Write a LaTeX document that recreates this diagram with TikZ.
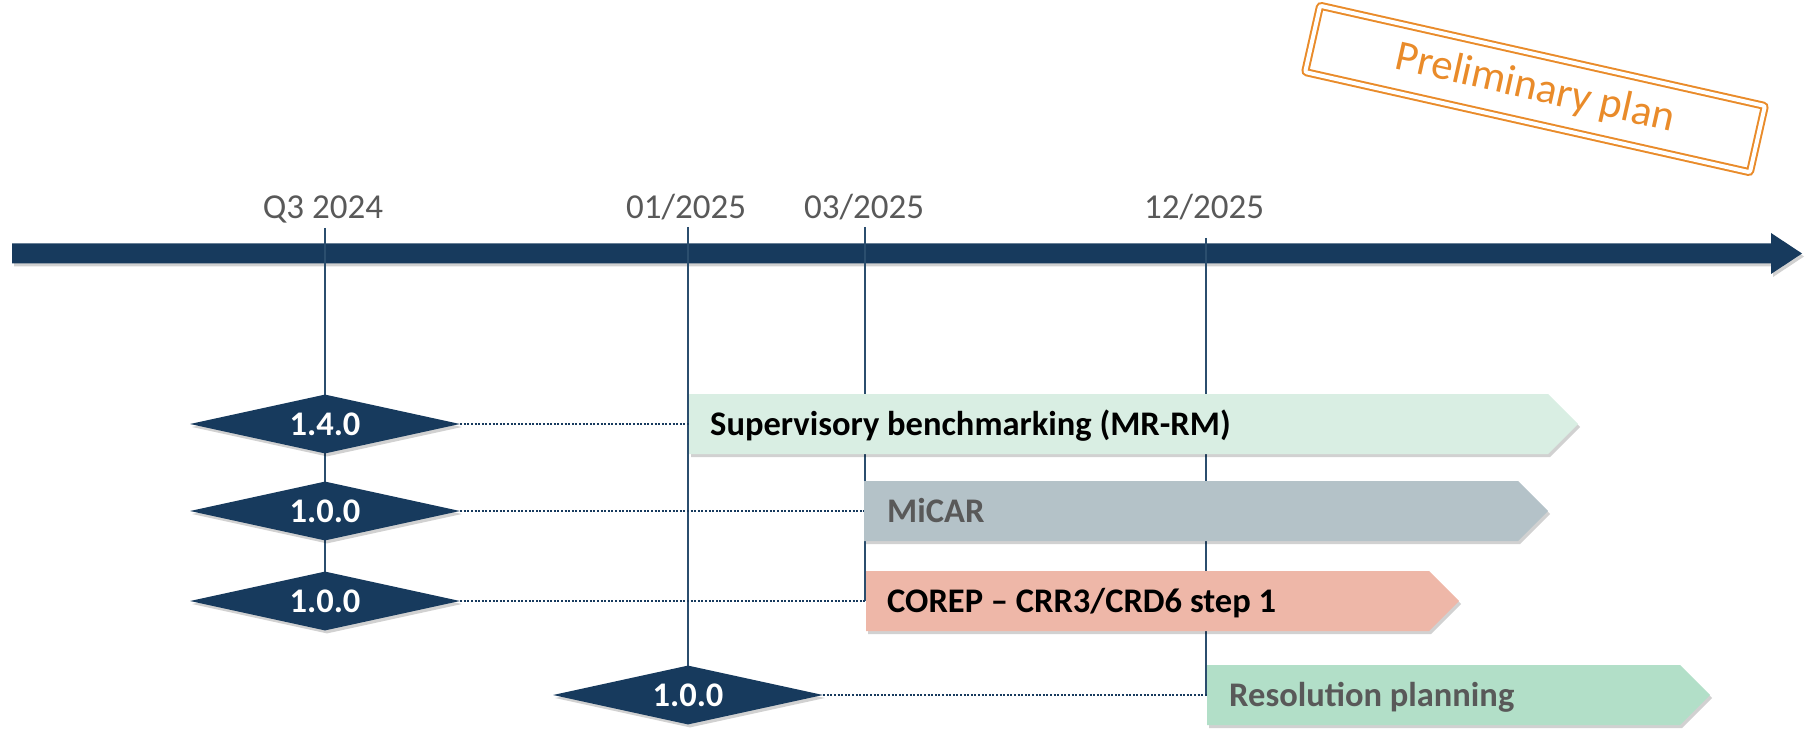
\documentclass[tikz,border=0pt]{standalone}
\usepackage{fontspec}
\setmainfont{Carlito}
\usetikzlibrary{shapes.geometric,shapes.symbols,shadows}
\definecolor{navy}{HTML}{173A5D}
\definecolor{tickc}{HTML}{2B4E6E}
\definecolor{greytxt}{HTML}{595959}
\definecolor{stampc}{HTML}{E98B2A}
\definecolor{barA}{HTML}{D9EEE3}
\definecolor{barB}{HTML}{B4C2C8}
\definecolor{barC}{HTML}{EEB7A8}
\definecolor{barD}{HTML}{B2DFC8}
\pgfdeclarelayer{axis}
\pgfdeclarelayer{bg}
\pgfsetlayers{axis,bg,main}
\begin{document}
\begin{tikzpicture}[x=1pt,y=-1pt,
  softshadow/.style={drop shadow={shadow xshift=2pt,shadow yshift=-3pt,opacity=0.18,fill=black}},
  datelabel/.style={anchor=base,text=greytxt,font=\fontsize{35}{42}\selectfont,inner sep=0pt},
  milestone/.style={diamond,aspect=4.6,fill=navy,minimum width=270pt,minimum height=59pt,inner sep=0pt,text=white,font=\fontsize{34.5}{40}\selectfont\bfseries,softshadow},
  phase/.style={signal,signal to=east,signal from=nowhere,signal pointer angle=90,minimum height=60pt,inner sep=0pt,outer sep=0pt,anchor=west,softshadow},
  phasetext/.style={anchor=base west,font=\fontsize{34.5}{40}\selectfont\bfseries,inner sep=0pt},
  tickline/.style={draw=tickc,line width=2pt},
  dotline/.style={draw=navy,line width=2.6pt,dash pattern=on 2pt off 1.6pt},
  stampbox/.style={draw=stampc,line width=2pt,double=white,double distance=4pt,rounded corners=2pt,minimum width=456pt,minimum height=68pt,inner sep=0pt,text=stampc,font=\fontsize{43}{50}\selectfont}
]
\useasboundingbox (0,0) rectangle (1806,735);

% timeline axis
\begin{pgfonlayer}{axis}
\fill[navy,softshadow] (12,243.5) -- (1771,243.5) -- (1771,233) -- (1802,253.5) -- (1771,274) -- (1771,263.5) -- (12,263.5) -- cycle;
\end{pgfonlayer}

% date labels
\node[datelabel] (lq3) at (323,219) {Q3 2024};
\node[datelabel] (l0125) at (686,219) {01/2025};
\node[datelabel] (l0325) at (864,219) {03/2025};
\node[datelabel] (l1225) at (1204,219) {12/2025};
\coordinate (t1) at (325,228);
\coordinate (t2) at (688,227);
\coordinate (t3) at (865,227);
\coordinate (t4) at (1206,238);

% milestones
\node[milestone] (d1) at (325,424) {1.4.0};
\node[milestone] (d2) at (325,511) {1.0.0};
\node[milestone] (d3) at (325,601) {1.0.0};
\node[milestone] (d4) at (688,695) {1.0.0};

% phases
\node[phase,fill=barA,minimum width=889pt] (b1) at (689,424) {};
\node[phase,fill=barB,minimum width=684pt] (b2) at (864,511) {};
\node[phase,fill=barC,minimum width=593pt] (b3) at (866,601) {};
\node[phase,fill=barD,minimum width=503pt] (b4) at (1207,695) {};

\node[phasetext,text=black] (s1) at ([xshift=21pt,yshift=-11pt]b1.west) {Supervisory benchmarking (MR-RM)};
\node[phasetext,text=greytxt] (s2) at ([xshift=23pt,yshift=-11pt]b2.west) {MiCAR};
\node[phasetext,text=black] (s3) at ([xshift=21pt,yshift=-11pt]b3.west) {COREP – CRR3/CRD6 step 1};
\node[phasetext,text=greytxt] (s4) at ([xshift=22pt,yshift=-11pt]b4.west) {Resolution planning};

% dotted connectors
\draw[dotline] (d1.east) -- (b1.west);
\draw[dotline] (d2.east) -- (b2.west);
\draw[dotline] (d3.east) -- (b3.west);
\draw[dotline] (d4.east) -- (b4.west);

% ticks
\begin{pgfonlayer}{bg}
\draw[tickline] (t1) -- (d3.center);
\draw[tickline] (t2) -- (d4.center);
\draw[tickline] (t3) -- (t3 |- b3.center);
\draw[tickline] (t4) -- (t4 |- b4.west);
\end{pgfonlayer}

% stamp
\node[stampbox,rotate=-12.7] (stamp) at (1535,89) {Preliminary plan};
\end{tikzpicture}
\end{document}
